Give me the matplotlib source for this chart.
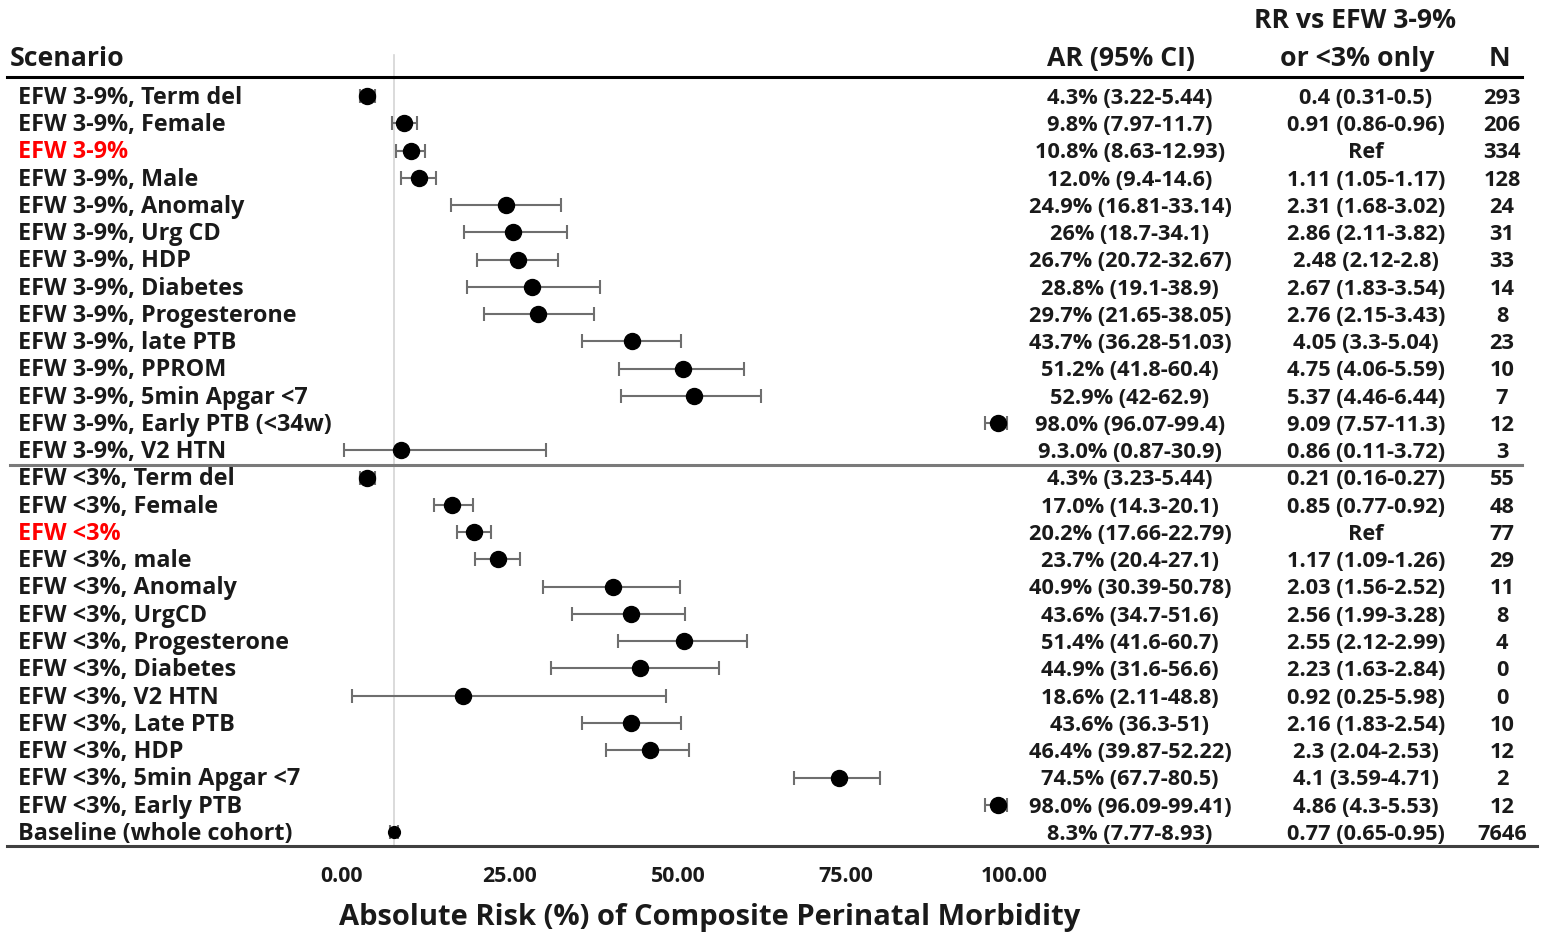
import matplotlib
matplotlib.use("Agg")
import matplotlib.pyplot as plt

# ---------------- data ----------------
scenarios = [
    "EFW 3-9%, Term del", "EFW 3-9%, Female", "EFW 3-9%", "EFW 3-9%, Male",
    "EFW 3-9%, Anomaly", "EFW 3-9%, Urg CD", "EFW 3-9%, HDP", "EFW 3-9%, Diabetes",
    "EFW 3-9%, Progesterone", "EFW 3-9%, late PTB", "EFW 3-9%, PPROM",
    "EFW 3-9%, 5min Apgar <7", "EFW 3-9%, Early PTB (<34w)", "EFW 3-9%, V2 HTN",
    "EFW <3%, Term del", "EFW <3%, Female", "EFW <3%", "EFW <3%, male",
    "EFW <3%, Anomaly", "EFW <3%, UrgCD", "EFW <3%, Progesterone", "EFW <3%, Diabetes",
    "EFW <3%, V2 HTN", "EFW <3%, Late PTB", "EFW <3%, HDP", "EFW <3%, 5min Apgar <7",
    "EFW <3%, Early PTB", "Baseline (whole cohort)",
]
ar = [4.3, 9.8, 10.8, 12.0, 24.9, 26.0, 26.7, 28.8, 29.7, 43.7, 51.2, 52.9, 98.0, 9.3,
      4.3, 17.0, 20.2, 23.7, 40.9, 43.6, 51.4, 44.9, 18.6, 43.6, 46.4, 74.5, 98.0, 8.3]
ci_low = [3.22, 7.97, 8.63, 9.4, 16.81, 18.7, 20.72, 19.1, 21.65, 36.28, 41.8, 42, 96.07, 0.87,
          3.23, 14.3, 17.66, 20.4, 30.39, 34.7, 41.6, 31.6, 2.11, 36.3, 39.87, 67.7, 96.09, 7.77]
ci_high = [5.44, 11.7, 12.93, 14.6, 33.14, 34.1, 32.67, 38.9, 38.05, 51.03, 60.4, 62.9, 99.4, 30.9,
           5.44, 20.1, 22.79, 27.1, 50.78, 51.6, 60.7, 56.6, 48.8, 51, 52.22, 80.5, 99.41, 8.93]
ar_text = [
    "4.3% (3.22-5.44)", "9.8% (7.97-11.7)", "10.8% (8.63-12.93)", "12.0% (9.4-14.6)",
    "24.9% (16.81-33.14)", "26% (18.7-34.1)", "26.7% (20.72-32.67)", "28.8% (19.1-38.9)",
    "29.7% (21.65-38.05)", "43.7% (36.28-51.03)", "51.2% (41.8-60.4)", "52.9% (42-62.9)",
    "98.0% (96.07-99.4)", "9.3.0% (0.87-30.9)",
    "4.3% (3.23-5.44)", "17.0% (14.3-20.1)", "20.2% (17.66-22.79)", "23.7% (20.4-27.1)",
    "40.9% (30.39-50.78)", "43.6% (34.7-51.6)", "51.4% (41.6-60.7)", "44.9% (31.6-56.6)",
    "18.6% (2.11-48.8)", "43.6% (36.3-51)", "46.4% (39.87-52.22)", "74.5% (67.7-80.5)",
    "98.0% (96.09-99.41)", "8.3% (7.77-8.93)",
]
rr_text = [
    "0.4 (0.31-0.5)", "0.91 (0.86-0.96)", "Ref", "1.11 (1.05-1.17)", "2.31 (1.68-3.02)",
    "2.86 (2.11-3.82)", "2.48 (2.12-2.8)", "2.67 (1.83-3.54)", "2.76 (2.15-3.43)",
    "4.05 (3.3-5.04)", "4.75 (4.06-5.59)", "5.37 (4.46-6.44)", "9.09 (7.57-11.3)",
    "0.86 (0.11-3.72)",
    "0.21 (0.16-0.27)", "0.85 (0.77-0.92)", "Ref", "1.17 (1.09-1.26)", "2.03 (1.56-2.52)",
    "2.56 (1.99-3.28)", "2.55 (2.12-2.99)", "2.23 (1.63-2.84)", "0.92 (0.25-5.98)",
    "2.16 (1.83-2.54)", "2.3 (2.04-2.53)", "4.1 (3.59-4.71)", "4.86 (4.3-5.53)",
    "0.77 (0.65-0.95)",
]
n_values = ["293", "206", "334", "128", "24", "31", "33", "14", "8", "23", "10", "7", "12", "3",
            "55", "48", "77", "29", "11", "8", "4", "0", "0", "10", "12", "2", "12", "7646"]
reference_rows = ["EFW 3-9%", "EFW <3%"]
x_ticks = [0, 25, 50, 75, 100]
baseline_value = 8.3

# ---------------- layout ----------------
W, H = 1542, 936
fig = plt.figure(figsize=(W / 100, H / 100), dpi=100)
ax = fig.add_axes([0, 0, 1, 1])
x0_px, px_per_unit = 338.0, 6.73
row0_px, row_px = 96.0, 27.26
ax.set_xlim(-x0_px / px_per_unit, (W - x0_px) / px_per_unit)
ax.set_ylim((H - row0_px) / row_px, -row0_px / row_px)
ax.axis("off")

def px2x(px):
    return (px - x0_px) / px_per_unit

def py2y(py):
    return (py - row0_px) / row_px

FONT = ["Open Sans", "DejaVu Sans"]
TXT = "#1a1a1a"
fs_lab = 16.8
fs_num = 15.7
fs_head = 19.2
base_off = 7.8 / row_px  # baseline offset so cap height is centred on the row

n = len(scenarios)
rows = list(range(n))

# vertical reference line at baseline
ax.plot([baseline_value, baseline_value], [py2y(55), py2y(845)], color="#d4d4d4", lw=1.2, zorder=1)

# error bars
for i in rows:
    ms = 8.5 if i == n - 1 else 11.5
    ax.errorbar(ar[i], i, xerr=[[ar[i] - ci_low[i]], [ci_high[i] - ar[i]]],
                fmt="o", color="black", ms=ms, ecolor="#6e6e6e", elinewidth=1.5,
                capsize=5, capthick=1.5, zorder=3)

# row texts
for i in rows:
    col = "#ff0000" if scenarios[i] in reference_rows else TXT
    yb = i + base_off
    ax.text(px2x(18), yb, scenarios[i], ha="left", va="baseline", fontsize=fs_lab,
            fontweight="bold", color=col, family=FONT)
    ax.text(px2x(1130), yb, ar_text[i], ha="center", va="baseline", fontsize=fs_num,
            fontweight="bold", color=TXT, family=FONT)
    ax.text(px2x(1366), yb, rr_text[i], ha="center", va="baseline", fontsize=fs_num,
            fontweight="bold", color=TXT, family=FONT)
    ax.text(px2x(1502), yb, n_values[i], ha="center", va="baseline", fontsize=fs_num,
            fontweight="bold", color=TXT, family=FONT)

# headers
ax.text(px2x(10), py2y(59), "Scenario", ha="left", va="center", fontsize=fs_head,
        fontweight="bold", color=TXT, family=FONT)
ax.text(px2x(1121), py2y(59), "AR (95% CI)", ha="center", va="center", fontsize=fs_head,
        fontweight="bold", color=TXT, family=FONT)
ax.text(px2x(1355), py2y(21), "RR vs EFW 3-9%", ha="center", va="center", fontsize=fs_head,
        fontweight="bold", color=TXT, family=FONT)
ax.text(px2x(1357), py2y(59), "or <3% only", ha="center", va="center", fontsize=fs_head,
        fontweight="bold", color=TXT, family=FONT)
ax.text(px2x(1499), py2y(59), "N", ha="center", va="center", fontsize=fs_head,
        fontweight="bold", color=TXT, family=FONT)

# horizontal rules
ax.plot([px2x(7), px2x(1522)], [py2y(77), py2y(77)], color="black", lw=2.2, zorder=2)
ax.plot([px2x(10), px2x(1522)], [py2y(465), py2y(465)], color="#7a7a7a", lw=2.2, zorder=2)
ax.plot([px2x(7), px2x(1537)], [py2y(846), py2y(846)], color="#404040", lw=2.2, zorder=2)

# x tick labels and axis title
for t in x_ticks:
    ax.text(t + 0.5, py2y(876), f"{t:.2f}", ha="center", va="center", fontsize=15.4,
            fontweight="bold", color=TXT, family=FONT)
ax.text(px2x(710), py2y(918), "Absolute Risk (%) of Composite Perinatal Morbidity",
        ha="center", va="center", fontsize=21, fontweight="bold", color=TXT, family=FONT)

fig.savefig("out.png", dpi=100)
